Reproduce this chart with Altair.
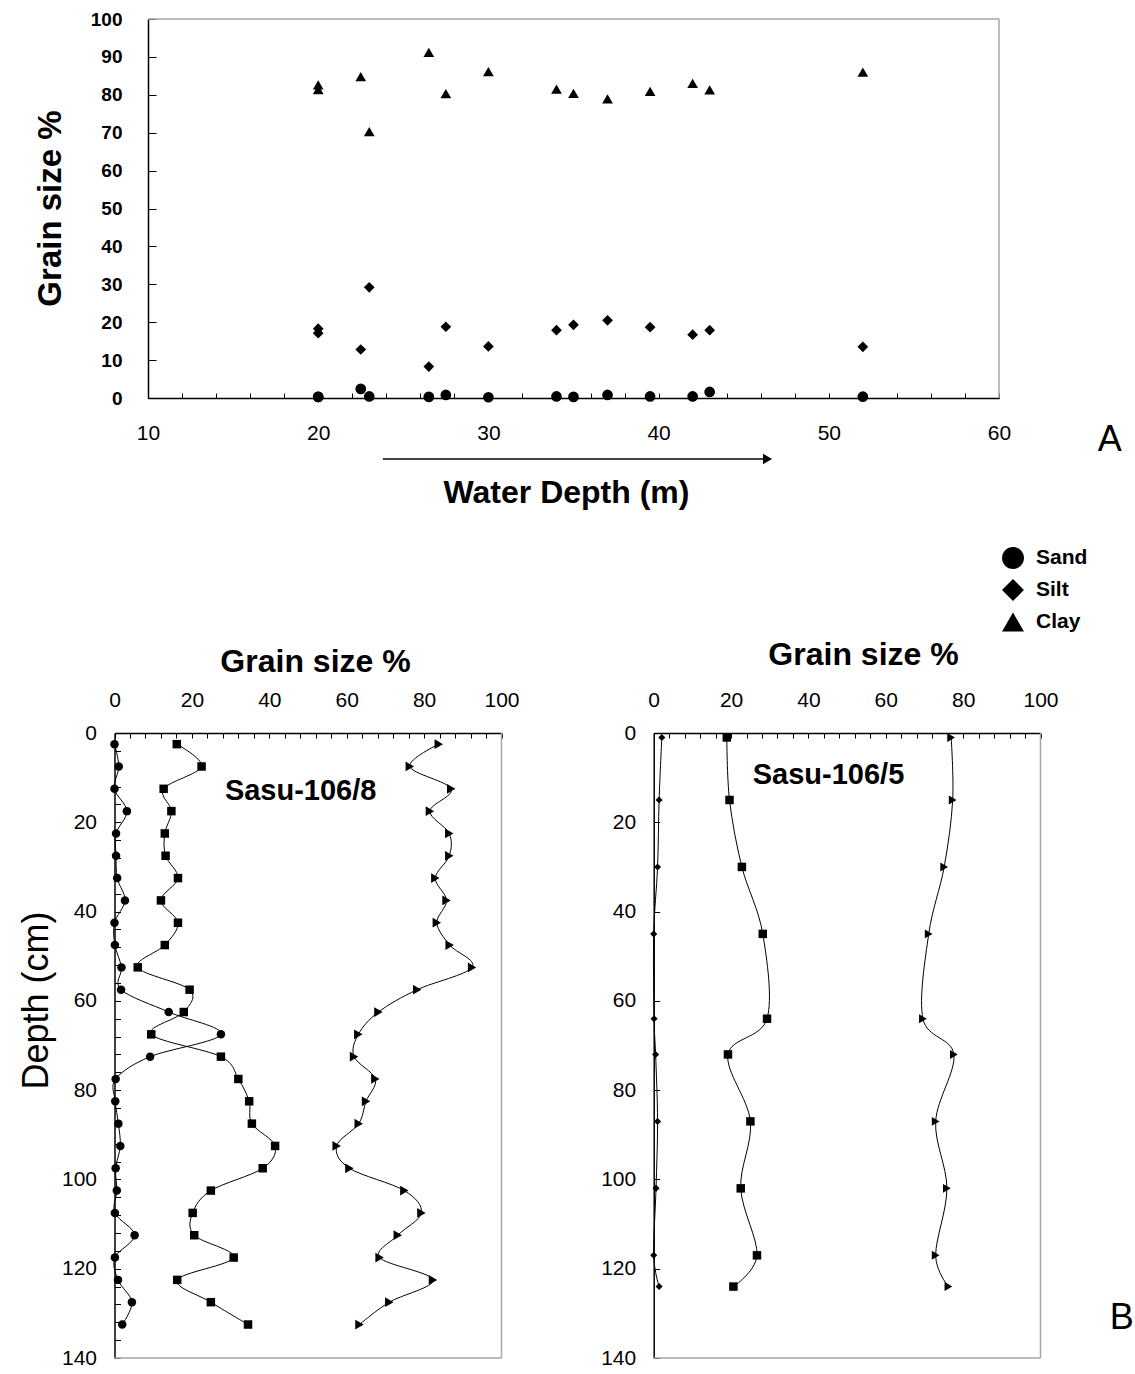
import altair as alt
import pandas as pd

FONT = "Liberation Sans"
W, H = 1135, 1374
GRAY = "#a6a6a6"

# ---------------- data ----------------
components = ["Sand", "Silt", "Clay"]

# Panel A: surface samples vs water depth (m)
a_depth = [20, 20, 22.5, 23, 26.5, 27.5, 30, 34, 35, 37, 39.5, 42, 43, 52]
a_sand = [0.3, 0.3, 2.4, 0.4, 0.3, 0.8, 0.2, 0.4, 0.3, 0.8, 0.4, 0.4, 1.6, 0.35]
a_silt = [17.1, 18.3, 12.8, 29.2, 8.3, 18.8, 13.6, 17.9, 19.3, 20.5, 18.7, 16.7, 17.9, 13.5]
a_clay = [82.6, 81.4, 84.8, 70.3, 91.2, 80.3, 86.1, 81.5, 80.4, 78.9, 80.9, 83.0, 81.3, 86.0]

# Core Sasu-106/8 (depth in cm)
c8_depth = [2.5, 7.5, 12.5, 17.5, 22.5, 27.5, 32.5, 37.5, 42.5, 47.5, 52.5, 57.5, 62.5, 67.5,
            72.5, 77.5, 82.5, 87.5, 92.5, 97.5, 102.5, 107.5, 112.5, 117.5, 122.5, 127.5, 132.5]
c8_sand = [0.0, 1.1, 0.0, 3.2, 0.4, 0.4, 0.7, 2.7, 0.0, 0.1, 1.8, 1.7, 14.0, 27.5,
           9.2, 0.3, 0.2, 1.0, 1.5, 0.3, 0.6, 0.1, 5.2, 0.1, 0.9, 4.5, 2.0]
c8_silt = [16.1, 22.5, 12.7, 14.7, 13.0, 13.2, 16.4, 12.0, 16.4, 13.0, 6.0, 19.4, 17.9, 9.5,
           27.5, 32.0, 34.8, 35.5, 41.5, 38.3, 24.9, 20.2, 20.6, 30.8, 16.2, 24.9, 34.5]
c8_clay = [83.8, 76.3, 87.0, 81.5, 86.5, 86.5, 82.9, 85.8, 83.3, 86.6, 92.4, 78.2, 68.2, 63.0,
           61.9, 67.4, 65.0, 63.1, 57.4, 60.7, 74.9, 79.3, 73.2, 68.5, 82.3, 71.0, 63.3]

# Core Sasu-106/5 (depth in cm)
c5_depth = [1, 15, 30, 45, 64, 72, 87, 102, 117, 124]
c5_sand = [2.1, 1.4, 1.0, 0.0, 0.1, 0.5, 1.0, 0.6, 0.0, 1.4]
c5_silt = [18.9, 19.6, 22.8, 28.2, 29.3, 19.2, 25.0, 22.5, 26.7, 20.6]
c5_clay = [76.9, 77.3, 75.1, 71.1, 69.6, 77.6, 72.9, 75.8, 72.9, 76.2]

a_ticks_major = [10, 20, 30, 40, 50, 60]
a_y_ticks = [0, 10, 20, 30, 40, 50, 60, 70, 80, 90, 100]
b_x_labels = [0, 20, 40, 60, 80, 100]
b_y_labels = [0, 20, 40, 60, 80, 100, 120, 140]


def long(depth, sand, silt, clay):
    n = len(depth)
    return pd.DataFrame({
        "depth": depth * 3,
        "comp": ["Sand"] * n + ["Silt"] * n + ["Clay"] * n,
        "value": sand + silt + clay,
    })


dfA = long(a_depth, a_sand, a_silt, a_clay)
df8 = long(c8_depth, c8_sand, c8_silt, c8_clay)
df5 = long(c5_depth, c5_sand, c5_silt, c5_clay)
one = pd.DataFrame({"k": [0]})

# ---------------- layout (pixel ranges of each panel) ----------------
A_X = ([10, 60], [148, 999])
A_Y = ([0, 100], [398, 19])
B_Y = ([0, 140], [733, 1358])
BL_X = ([0, 100], [114.5, 501.5])
BR_X = ([0, 100], [653.7, 1040.5])


def sc(d):
    return alt.Scale(domain=d[0], range=d[1], nice=False, zero=False)


layers = []

# ---------- Panel A ----------
layers.append(
    alt.Chart(dfA).mark_point(filled=True, color="black", size=115, opacity=1).encode(
        x=alt.X("depth:Q", scale=sc(A_X), axis=alt.Axis(
            orient="bottom", offset=398 - H, values=a_ticks_major, ticks=False,
            labelFlush=False, domainColor="black", domainWidth=1.5, labelFontSize=21,
            labelPadding=24,
            title="Water Depth (m)", titleX=566, titleY=94, titleFontSize=32,
            titleFontWeight="bold", titleAlign="center", titleBaseline="middle")),
        y=alt.Y("value:Q", scale=sc(A_Y), axis=alt.Axis(
            orient="left", offset=-148, values=a_y_ticks, ticks=False, labelFlush=False,
            domainColor="black", domainWidth=1.5, labelFontSize=19, labelFontWeight="bold",
            labelPadding=26, title="Grain size %", titleX=-98, titleY=208, titleAngle=270,
            titleFontSize=33, titleFontWeight="bold", titleAlign="center",
            titleBaseline="middle")),
        shape=alt.Shape("comp:N", scale=alt.Scale(domain=components,
                        range=["circle", "diamond", "triangle-up"]),
                        legend=alt.Legend(orient="none", legendX=1002, legendY=547,
                                          title=None, labelFontSize=21, labelFontWeight="bold",
                                          labelFont=FONT, labelColor="black", symbolSize=480,
                                          symbolFillColor="black", symbolStrokeColor="black",
                                          symbolStrokeWidth=0, labelOffset=12, rowPadding=10,
                                          padding=0)),
    )
)
# top border + inward ticks
layers.append(
    alt.Chart(one).mark_rule(color=GRAY, strokeWidth=1.5).encode(
        x=alt.X(datum=10, scale=sc(A_X), axis=alt.Axis(
            orient="top", offset=-398, values=list(range(10, 61, 2)), labels=False,
            domain=False, tickSize=5, tickColor="black", title=None)),
        x2=alt.X2(datum=60),
        y=alt.Y(datum=100, scale=sc(A_Y), axis=alt.Axis(
            orient="right", offset=148 - W, values=a_y_ticks, labels=False,
            domain=False, tickSize=8, tickColor="black", title=None)),
    )
)
# right border
layers.append(
    alt.Chart(one).mark_rule(color=GRAY, strokeWidth=1.5).encode(
        x=alt.X(datum=60, scale=sc(A_X), axis=None),
        y=alt.Y(datum=0, scale=sc(A_Y), axis=None),
        y2=alt.Y2(datum=100),
    )
)
# arrow under the x axis
layers.append(
    alt.Chart(one).mark_rule(color="black", strokeWidth=1.5).encode(
        x=alt.X(datum=23.8, scale=sc(A_X), axis=None),
        x2=alt.X2(datum=46.2),
        y=alt.Y(datum=-16.1, scale=sc(A_Y), axis=None),
    )
)
layers.append(
    alt.Chart(one).mark_point(shape="triangle-right", filled=True, color="black",
                              size=110, opacity=1).encode(
        x=alt.X(datum=46.4, scale=sc(A_X), axis=None),
        y=alt.Y(datum=-16.1, scale=sc(A_Y), axis=None),
    )
)
layers.append(
    alt.Chart(one).mark_text(text="A", fontSize=36, font=FONT, align="center",
                             baseline="middle", color="black").encode(
        x=alt.X(datum=66.5, scale=sc(A_X), axis=None),
        y=alt.Y(datum=-11.1, scale=sc(A_Y), axis=None),
    )
)


# ---------- Panel B cores ----------
def core_layers(df, xr, shapes, sizes, ytick_vals, title_x, title_y, ytitle, label,
                label_x, label_y):
    out = []
    yaxis_kw = dict(orient="left", offset=-xr[1][0], values=b_y_labels, ticks=False,
                    labelFlush=False, domainColor="black", domainWidth=1.5,
                    labelFontSize=21, labelPadding=18)
    if ytitle:
        yaxis_kw.update(title="Depth (cm)", titleX=36 - xr[1][0], titleY=1000, titleAngle=270,
                        titleFontSize=36, titleFontWeight="normal", titleAlign="center",
                        titleBaseline="middle")
    else:
        yaxis_kw.update(title=None)
    out.append(
        alt.Chart(df).mark_line(interpolate="cardinal", color="black", strokeWidth=1).encode(
            x=alt.X("value:Q", scale=sc(xr), axis=alt.Axis(
                orient="top", offset=-733, values=b_x_labels, ticks=False, labelFlush=False,
                domainColor="black", domainWidth=1.5, labelFontSize=21, labelPadding=23,
                title="Grain size %", titleX=title_x, titleY=title_y, titleFontSize=32,
                titleFontWeight="bold", titleAlign="center", titleBaseline="middle")),
            y=alt.Y("depth:Q", scale=sc(B_Y), axis=alt.Axis(**yaxis_kw)),
            detail="comp:N",
            order="depth:Q",
        )
    )
    for comp, shp, sz in zip(components, shapes, sizes):
        out.append(
            alt.Chart(df).transform_filter(alt.datum.comp == comp)
            .mark_point(shape=shp, filled=True, color="black", size=sz, opacity=1).encode(
                x=alt.X("value:Q", scale=sc(xr), axis=None),
                y=alt.Y("depth:Q", scale=sc(B_Y), axis=None),
            )
        )
    # bottom border + inward ticks
    out.append(
        alt.Chart(one).mark_rule(color=GRAY, strokeWidth=1.5).encode(
            x=alt.X(datum=0, scale=sc(xr), axis=alt.Axis(
                orient="bottom", offset=733 - H, values=list(range(0, 101, 4)), labels=False,
                domain=False, tickSize=5, tickColor="black", title=None)),
            x2=alt.X2(datum=100),
            y=alt.Y(datum=140, scale=sc(B_Y), axis=alt.Axis(
                orient="right", offset=xr[1][0] - W, values=ytick_vals, labels=False,
                domain=False, tickSize=6, tickColor="black", title=None)),
        )
    )
    out.append(
        alt.Chart(one).mark_rule(color=GRAY, strokeWidth=1.5).encode(
            x=alt.X(datum=100, scale=sc(xr), axis=None),
            y=alt.Y(datum=0, scale=sc(B_Y), axis=None),
            y2=alt.Y2(datum=140),
        )
    )
    out.append(
        alt.Chart(one).mark_text(text=label, fontSize=29, fontWeight="bold", font=FONT,
                                 align="center", baseline="alphabetic", color="black").encode(
            x=alt.X(datum=label_x, scale=sc(xr), axis=None),
            y=alt.Y(datum=label_y, scale=sc(B_Y), axis=None),
        )
    )
    return out


layers += core_layers(df8, BL_X, ["circle", "square", "triangle-right"], [72, 72, 95],
                      list(range(0, 141, 4)), 315, -72, True, "Sasu-106/8", 48.1, 15.0)
layers += core_layers(df5, BR_X, ["diamond", "square", "triangle-right"], [50, 72, 80],
                      b_y_labels, 863, -79, False, "Sasu-106/5", 45.2, 11.4)

layers.append(
    alt.Chart(one).mark_text(text="B", fontSize=36, font=FONT, align="center",
                             baseline="middle", color="black").encode(
        x=alt.X(datum=121, scale=sc(BR_X), axis=None),
        y=alt.Y(datum=131, scale=sc(B_Y), axis=None),
    )
)

chart = (
    alt.layer(*layers)
    .resolve_scale(x="independent", y="independent", shape="independent")
    .properties(width=W, height=H, padding=0, autosize=alt.AutoSizeParams(type="none"),
                background="white")
    .configure_axis(grid=False, labelFont=FONT, titleFont=FONT, labelColor="black",
                    titleColor="black", tickColor="black")
    .configure_view(strokeWidth=0)
)

chart.save("out.html", embed_options={"renderer": "svg", "actions": False})
